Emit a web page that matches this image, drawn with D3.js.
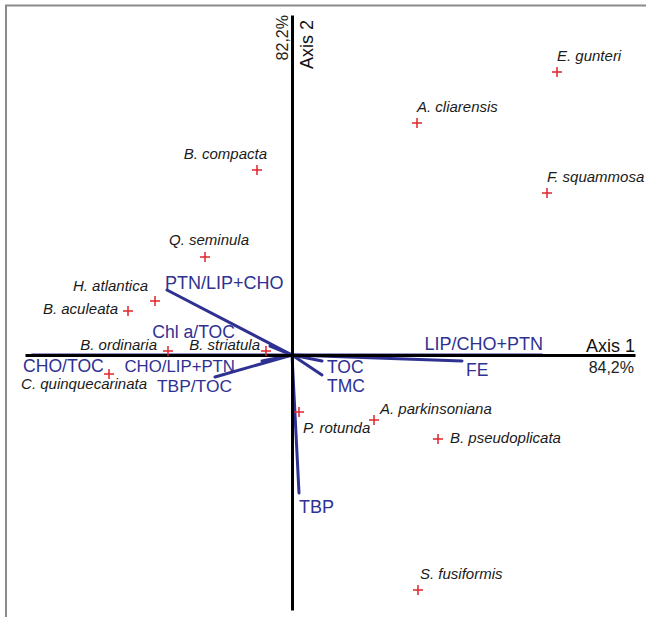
<!DOCTYPE html>
<html>
<head>
<meta charset="utf-8">
<script src="https://cdn.jsdelivr.net/npm/d3@7/dist/d3.min.js"></script>
<style>
  html, body { margin: 0; padding: 0; background: #fff; }
  svg { display: block; font-family: "Liberation Sans", Arial, sans-serif; }
</style>
</head>
<body>
<svg id="chart" width="646" height="617"></svg>
<script>
// ---- Data (CCA biplot scores) ----
const species = ["E. gunteri", "A. cliarensis", "F. squammosa", "B. compacta", "Q. seminula",
  "H. atlantica", "B. aculeata", "B. ordinaria", "B. striatula", "C. quinquecarinata",
  "P. rotunda", "A. parkinsoniana", "B. pseudoplicata", "S. fusiformis"];
const speciesAxis1 = [2.65, 1.25, 2.55, -0.35, -0.87, -1.37, -1.64, -1.24, -0.26, -1.83, 0.07, 0.82, 1.46, 1.26];
const speciesAxis2 = [2.83, 2.32, 1.62, 1.85, 0.98, 0.54, 0.44, 0.04, 0.04, -0.19, -0.57, -0.65, -0.84, -2.35];

const variables = ["PTN/LIP+CHO", "Chl a/TOC", "CHO/TOC", "CHO/LIP+PTN", "TBP/TOC",
  "LIP/CHO+PTN", "FE", "TOC", "TMC", "TBP"];
const varAxis1 = [-1.25, -0.22, -2.60, -0.30, -0.77, 2.50, 1.70, 0.30, 0.30, 0.07];
const varAxis2 = [0.65, 0.09, 0.00, -0.06, -0.22, 0.00, -0.06, -0.06, -0.20, -1.38];

const axisTitles = ["Axis 1", "Axis 2"];
const axisPercents = ["84,2%", "82,2%"];

// ---- Layout (label offsets relative to their mark: dx, dy, anchor, font size) ----
const speciesLabelLayout = {
  "E. gunteri": [0, -11, "start"], "A. cliarensis": [0, -11, "start"], "F. squammosa": [0, -11, "start"],
  "B. compacta": [10, -11, "end"], "Q. seminula": [4, -12, "middle"], "H. atlantica": [-7, -10, "end"],
  "B. aculeata": [-10, 3, "end"], "B. ordinaria": [-11, -1, "end"], "B. striatula": [-6, -1, "end"],
  "C. quinquecarinata": [38, 15, "end"], "P. rotunda": [4, 21, "start"],
  "A. parkinsoniana": [6, -6, "start"], "B. pseudoplicata": [12, 4, "start"], "S. fusiformis": [2, -11, "start"]
};
const varLabelLayout = {
  "PTN/LIP+CHO": [-2, -1, "start", 18], "Chl a/TOC": [-35, -8, "end", 17.6], "CHO/TOC": [-9, 17, "start", 17.6],
  "CHO/LIP+PTN": [-27, 11, "end", 16.8], "TBP/TOC": [17, 15, "end", 17.4], "LIP/CHO+PTN": [1, -5, "end", 18],
  "FE": [4, 15, "start", 17.5], "TOC": [5, 12, "start", 17.5], "TMC": [5, 17, "start", 17.5], "TBP": [0, 20, "start", 18]
};

const svg = d3.select("#chart");
const x = d3.scaleLinear().domain([-2.67, 3.43]).range([25, 635]);
const y = d3.scaleLinear().domain([-2.55, 3.40]).range([610, 15]);
const blue = "#2e3192";
const red = "#e0262b";

// frame
svg.append("path").attr("d", "M6,617 V5.5 H646")
  .attr("fill", "none").attr("stroke", "#8a8a8a").attr("stroke-width", 2);

// vectors
const vecs = variables.map((v, i) => ({ name: v, a1: varAxis1[i], a2: varAxis2[i] }));
svg.append("g").selectAll("line").data(vecs).join("line")
  .attr("x1", x(0)).attr("y1", y(0))
  .attr("x2", d => x(d.a1)).attr("y2", d => y(d.a2))
  .attr("stroke", blue).attr("stroke-width", 3).attr("stroke-linecap", "round");

// axes through origin
const axisG = svg.append("g");
const xAxis = d3.axisBottom(x).tickValues([]).tickSizeOuter(0);
const yAxis = d3.axisRight(y).tickValues([]).tickSizeOuter(0);
axisG.append("g").attr("transform", `translate(0,${y(0)})`).call(xAxis)
  .select(".domain").attr("stroke", "#000").attr("stroke-width", 3);
axisG.append("g").attr("transform", `translate(${x(0)},0)`).call(yAxis)
  .select(".domain").attr("stroke", "#000").attr("stroke-width", 3);

// axis titles
svg.append("text").attr("x", x.range()[1]).attr("y", y(0) - 3)
  .attr("text-anchor", "end").attr("font-size", 18).attr("fill", "#111").text(axisTitles[0]);
svg.append("text").attr("x", x.range()[1] - 1).attr("y", y(0) + 18)
  .attr("text-anchor", "end").attr("font-size", 16).attr("fill", "#222").text(axisPercents[0]);
svg.append("text").attr("transform", `translate(${x(0) + 21},${y.range()[1] + 5}) rotate(-90)`)
  .attr("text-anchor", "end").attr("font-size", 18).attr("fill", "#111").text(axisTitles[1]);
svg.append("text").attr("transform", `translate(${x(0) - 4},${y.range()[1]}) rotate(-90)`)
  .attr("text-anchor", "end").attr("font-size", 16).attr("fill", "#222").text(axisPercents[1]);

// vector labels
svg.append("g").selectAll("text").data(vecs).join("text")
  .attr("x", d => x(d.a1) + varLabelLayout[d.name][0])
  .attr("y", d => y(d.a2) + varLabelLayout[d.name][1])
  .attr("text-anchor", d => varLabelLayout[d.name][2])
  .attr("font-size", d => varLabelLayout[d.name][3]).attr("fill", blue).text(d => d.name);

// species crosses
const sp = species.map((s, i) => ({ name: s, a1: speciesAxis1[i], a2: speciesAxis2[i] }));
svg.append("g").selectAll("path").data(sp).join("path")
  .attr("d", d => { const cx = x(d.a1), cy = y(d.a2);
    return `M${cx - 5},${cy}H${cx + 5}M${cx},${cy - 5}V${cy + 5}`; })
  .attr("stroke", red).attr("stroke-width", 1.5).attr("fill", "none");

// species labels
svg.append("g").selectAll("text").data(sp).join("text")
  .attr("x", d => x(d.a1) + speciesLabelLayout[d.name][0])
  .attr("y", d => y(d.a2) + speciesLabelLayout[d.name][1])
  .attr("text-anchor", d => speciesLabelLayout[d.name][2])
  .attr("font-size", 15).attr("font-style", "italic").attr("fill", "#1a1a1a").text(d => d.name);
</script>
</body>
</html>
